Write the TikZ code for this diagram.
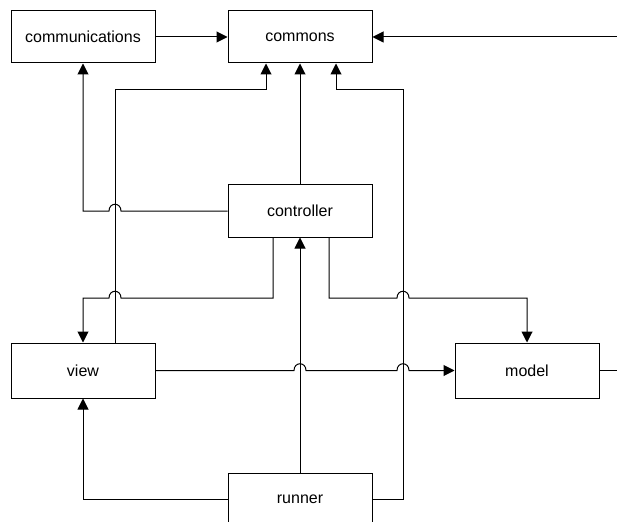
\documentclass[tikz,border=0pt]{standalone}
\usepackage{fontspec}
\setmainfont{Liberation Sans}
\usetikzlibrary{arrows.meta,positioning}

\begin{document}
\begin{tikzpicture}[
    x=1pt, y=-1pt,
    pkg/.style={draw, line width=1pt, minimum width=144pt, minimum height=52pt, inner sep=0pt, font=\fontsize{16}{19}\selectfont},
    pkgtall/.style={pkg, minimum height=55pt},
    arr/.style={-{Triangle[length=11pt,width=11pt]}, line width=1pt},
    wire/.style={line width=1pt}
]
\useasboundingbox (0,0) rectangle (617,521);
\clip (0,0) rectangle (617,521);

\node[pkg] (comm) at (83,37) {communications};
\node[pkg] (commons) at (300,37) {commons};
\node[pkg] (controller) at (300,211) {controller};
\node[pkgtall] (view) at (83,370.5) {view};
\node[pkgtall] (model) at (527,370.5) {model};
\node[pkg] (runner) at (300,499) {runner};
\coordinate (outcommons) at (617,37);
\coordinate (outmodel) at (617,370.5);

\draw[arr] (comm) -- (commons);
\draw[arr] (outcommons) -- (commons);
\draw[arr] (controller) -- (commons);
\draw[arr] ([xshift=32pt]view.north) -- (115,90) -- (266,90) -- ([xshift=-34pt]commons.south);
\draw[arr] (runner.east) -- (403,499) -- (403,90) -- (336,90) -- ([xshift=36pt]commons.south);
\draw[arr] (controller.west) -- (121,211) .. controls (121,202) and (109,202) .. (109,211) -- (83,211) -- (comm.south);
\draw[arr] ([xshift=-27pt]controller.south) -- (273,298) -- (121,298) .. controls (121,289) and (109,289) .. (109,298) -- (83,298) -- (view.north);
\draw[arr] ([xshift=29pt]controller.south) -- (329,298) -- (397,298) .. controls (397,289) and (409,289) .. (409,298) -- (527,298) -- (model.north);
\draw[arr] (view.east) -- (294,370.5) .. controls (294,361.5) and (306,361.5) .. (306,370.5) -- (397,370.5) .. controls (397,361.5) and (409,361.5) .. (409,370.5) -- (model.west);
\draw[wire] (model.east) -- (outmodel);
\draw[arr] (runner) -- (controller);
\draw[arr] (runner.west) -- (83,499) -- (view.south);
\end{tikzpicture}
\end{document}
